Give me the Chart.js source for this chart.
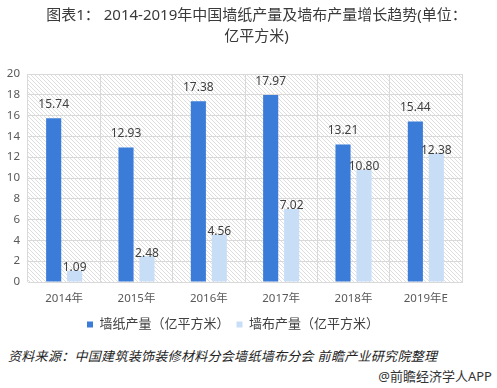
<!DOCTYPE html>
<html lang="zh">
<head>
<meta charset="UTF-8">
<title>墙纸及墙布产量</title>
<script src="https://cdn.jsdelivr.net/npm/chart.js"></script>
<style>
    body {
        margin: 0;
        background: #fff;
        font-family: "Noto Sans", "Noto Sans CJK SC", sans-serif;
    }
    #wrap {
        position: relative;
        width: 497px;
        height: 388px;
    }
    #title {
        position: absolute;
        left: 16px;
        top: 4px;
        width: 481px;
        text-align: center;
        font-size: 15px;
        line-height: 21px;
        color: #3a3a3a;
    }
    #chartBox {
        position: absolute;
        left: 0;
        top: 0;
        width: 497px;
        height: 345px;
    }
    #source {
        position: absolute;
        left: 8px;
        top: 346px;
        font-size: 13px;
        font-style: italic;
        color: #222;
        letter-spacing: 0.3px;
    }
    #app {
        position: absolute;
        right: 5px;
        top: 366px;
        font-size: 13px;
        color: #333;
    }
</style>
</head>
<body>
<div id="wrap">
    <div id="chartBox"><canvas id="prodChart"></canvas></div>
    <div id="title">图表1： 2014-2019年中国墙纸产量及墙布产量增长趋势(单位：<br>亿平方米)</div>
    <div id="source">资料来源：中国建筑装饰装修材料分会墙纸墙布分会 前瞻产业研究院整理</div>
    <div id="app">@前瞻经济学人APP</div>
</div>

<script>
    const years = ['2014年', '2015年', '2016年', '2017年', '2018年', '2019年E'];
    const wallpaper = [15.74, 12.93, 17.38, 17.97, 13.21, 15.44];
    const wallcloth = [1.09, 2.48, 4.56, 7.02, 10.80, 12.38];
    const seriesNames = ['墙纸产量（亿平方米）', '墙布产量（亿平方米）'];

    const fontFam = '"Noto Sans", "Noto Sans CJK SC", sans-serif';

    // diagonal hatch behind the plot
    function makeHatch(ctx) {
        const c = document.createElement('canvas');
        c.width = 4; c.height = 4;
        const g = c.getContext('2d');
        g.strokeStyle = '#d6d6d6';
        g.lineWidth = 0.8;
        g.beginPath();
        g.moveTo(0, 0); g.lineTo(4, 4);
        g.moveTo(-1, 3); g.lineTo(1, 5);
        g.moveTo(3, -1); g.lineTo(5, 1);
        g.stroke();
        return ctx.createPattern(c, 'repeat');
    }

    const hatchBg = {
        id: 'hatchBg',
        beforeDraw(chart) {
            const a = chart.chartArea;
            const ctx = chart.ctx;
            ctx.save();
            ctx.fillStyle = makeHatch(ctx);
            ctx.fillRect(a.left, a.top, a.right - a.left, a.bottom - a.top);
            ctx.restore();
        }
    };

    // value labels above the bars
    const valueLabels = {
        id: 'valueLabels',
        afterDatasetsDraw(chart) {
            const ctx = chart.ctx;
            ctx.save();
            ctx.font = '12px ' + fontFam;
            ctx.fillStyle = '#404040';
            ctx.textAlign = 'center';
            ctx.textBaseline = 'middle';
            chart.data.datasets.forEach((ds, i) => {
                const meta = chart.getDatasetMeta(i);
                const off = i === 0 ? 14 : 3;
                meta.data.forEach((bar, j) => {
                    let y = bar.y - off;
                    if (y < chart.chartArea.top + 1) y = chart.chartArea.top + 1;
                    ctx.fillText(ds.data[j].toFixed(2), bar.x, y);
                });
            });
            ctx.restore();
        }
    };

    const ctx = document.getElementById('prodChart').getContext('2d');
    new Chart(ctx, {
        type: 'bar',
        data: {
            labels: years,
            datasets: [{
                label: seriesNames[0],
                data: wallpaper,
                backgroundColor: '#3b7cd9',
                categoryPercentage: 0.58,
                barPercentage: 0.72
            }, {
                label: seriesNames[1],
                data: wallcloth,
                backgroundColor: '#c8def7',
                categoryPercentage: 0.58,
                barPercentage: 0.72
            }]
        },
        options: {
            responsive: true,
            maintainAspectRatio: false,
            animation: false,
            layout: {
                padding: { top: 74, left: 4, right: 35, bottom: 4 }
            },
            scales: {
                x: {
                    grid: { color: '#d9d9d9', offset: true, drawTicks: false },
                    border: { color: '#d9d9d9' },
                    ticks: { color: '#595959', font: { size: 11.5, family: fontFam }, padding: 10 },
                    afterFit(s) { s.height = 29; }
                },
                y: {
                    min: 0,
                    max: 20,
                    ticks: { stepSize: 2, color: '#595959', font: { size: 11.5, family: fontFam }, padding: 8 },
                    grid: { color: '#d9d9d9', drawTicks: false },
                    border: { display: false },
                    afterFit(s) { s.width = 24; }
                }
            },
            plugins: {
                legend: {
                    position: 'bottom',
                    labels: {
                        boxWidth: 6,
                        boxHeight: 6,
                        padding: 7,
                        color: '#404040',
                        font: { size: 13, family: fontFam }
                    }
                },
                tooltip: { enabled: false }
            }
        },
        plugins: [hatchBg, valueLabels]
    });
</script>
</body>
</html>
